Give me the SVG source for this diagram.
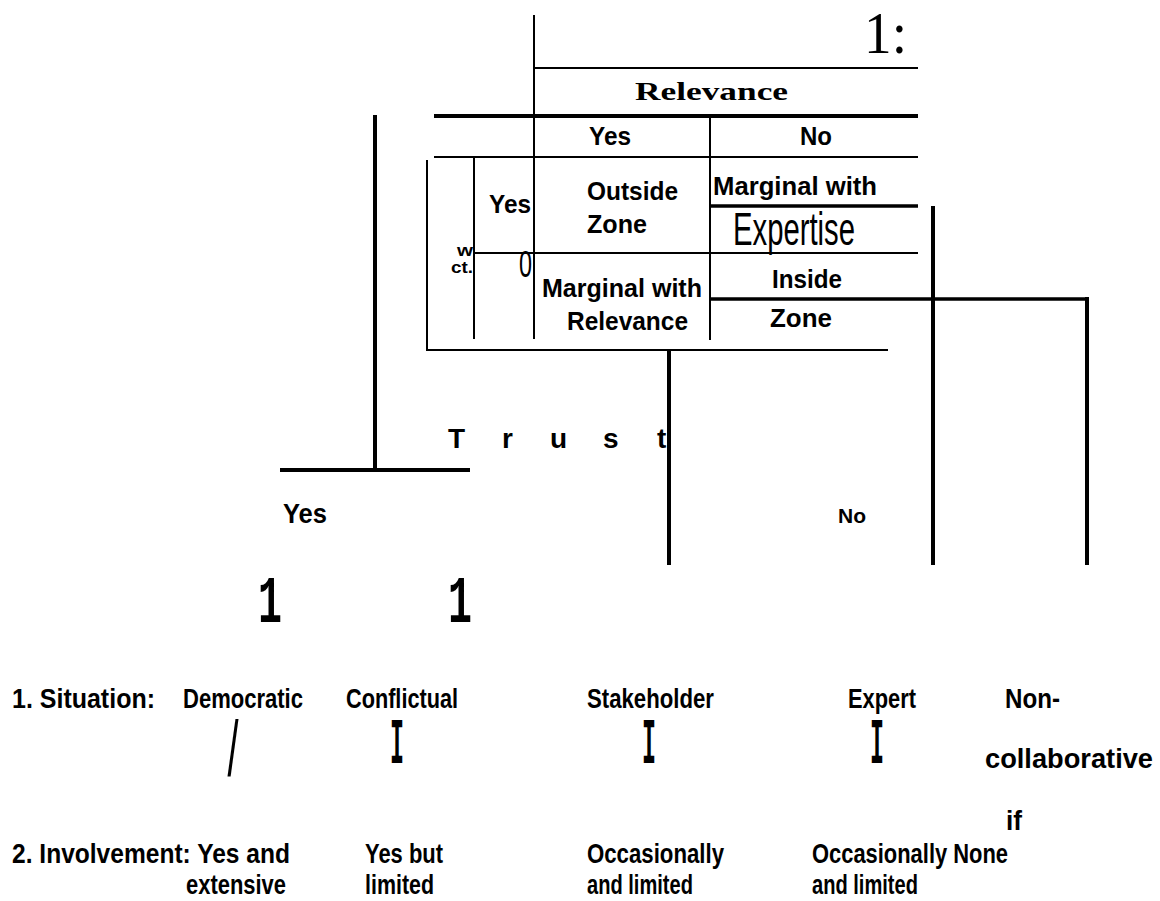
<svg xmlns="http://www.w3.org/2000/svg" width="1160" height="901" viewBox="0 0 1160 901">
<style>
.b{font-family:"Liberation Sans",Arial,sans-serif;font-weight:bold;fill:#000}
.r{font-family:"Liberation Sans",Arial,sans-serif;font-weight:normal;fill:#000}
.s{font-family:"Liberation Serif","Times New Roman",serif;fill:#000}
.m{font-family:"Liberation Mono","Courier New",monospace;font-weight:bold;fill:#000}
.f24{font-size:26px}.f26{font-size:28px}
.thin{stroke:#000;stroke-width:2;fill:none}
.thick{stroke:#000;stroke-width:4;fill:none}
.mid{stroke:#000;stroke-width:3.5;fill:none}
</style>
<rect width="1160" height="901" fill="#fff"/>
<g id="table">
<line class="thin" x1="534" y1="15" x2="534" y2="339"/>
<line class="thin" x1="534" y1="68" x2="918" y2="68"/>
<line class="thick" x1="434" y1="116" x2="918" y2="116"/>
<line class="thin" x1="710" y1="116" x2="710" y2="340"/>
<line class="thin" x1="434" y1="157" x2="918" y2="157"/>
<line class="thin" x1="427" y1="160" x2="427" y2="351"/>
<line class="thin" x1="474" y1="157" x2="474" y2="339"/>
<line class="thin" x1="474" y1="253" x2="918" y2="253"/>
<line class="mid" x1="710" y1="206" x2="918" y2="206"/>
<line class="thin" x1="427" y1="350" x2="888" y2="350"/>
<text class="s" x="864" y="53" font-size="60" textLength="43" lengthAdjust="spacingAndGlyphs">1:</text>
<text class="s" x="635" y="100" font-size="26" font-weight="bold" textLength="153" lengthAdjust="spacingAndGlyphs">Relevance</text>
<text class="b" x="589" y="145" font-size="25" textLength="42" lengthAdjust="spacingAndGlyphs">Yes</text>
<text class="b" x="800" y="145" font-size="25" textLength="32" lengthAdjust="spacingAndGlyphs">No</text>
<text class="b" x="489" y="213" font-size="25" textLength="42" lengthAdjust="spacingAndGlyphs">Yes</text>
<text class="b" x="457" y="256" font-size="17" textLength="16" lengthAdjust="spacingAndGlyphs">w</text>
<text class="b" x="451" y="273" font-size="17" textLength="22" lengthAdjust="spacingAndGlyphs">ct.</text>
<text class="r" x="519" y="277" font-size="37" textLength="13" lengthAdjust="spacingAndGlyphs">0</text>
<text class="b f24" x="587" y="200" textLength="91" lengthAdjust="spacingAndGlyphs">Outside</text>
<text class="b f24" x="587" y="233" textLength="60" lengthAdjust="spacingAndGlyphs">Zone</text>
<text class="b f24" x="713" y="195" textLength="164" lengthAdjust="spacingAndGlyphs">Marginal with</text>
<text class="r" x="733" y="245" font-size="47" textLength="122" lengthAdjust="spacingAndGlyphs">Expertise</text>
<text class="b f24" x="542" y="297" textLength="160" lengthAdjust="spacingAndGlyphs">Marginal with</text>
<text class="b f24" x="567" y="330" textLength="121" lengthAdjust="spacingAndGlyphs">Relevance</text>
<text class="b f24" x="772" y="288" textLength="70" lengthAdjust="spacingAndGlyphs">Inside</text>
<text class="b f24" x="770" y="327" textLength="62" lengthAdjust="spacingAndGlyphs">Zone</text>
</g>
<g id="connectors">
<line class="mid" x1="710" y1="299" x2="1089" y2="299"/>
<line class="thick" x1="933" y1="206" x2="933" y2="565"/>
<line class="thick" x1="1087" y1="297" x2="1087" y2="565"/>
<line class="thick" x1="669" y1="350" x2="669" y2="565"/>
<line class="thick" x1="375" y1="115" x2="375" y2="470"/>
<line class="thick" x1="280" y1="470" x2="470" y2="470"/>
</g>
<g id="trust">
<text class="b" font-size="28" x="448 502 550 603 657" y="448">Trust</text>
<text class="b" x="283" y="523" font-size="27" textLength="44" lengthAdjust="spacingAndGlyphs">Yes</text>
<text class="b" x="838" y="523" font-size="20" textLength="28" lengthAdjust="spacingAndGlyphs">No</text>
<text class="m" x="270" y="622" font-size="66" text-anchor="middle" textLength="24" lengthAdjust="spacingAndGlyphs">1</text>
<text class="m" x="460" y="622" font-size="66" text-anchor="middle" textLength="24" lengthAdjust="spacingAndGlyphs">1</text>
</g>
<g id="situation">
<text class="b f26" x="12" y="708" textLength="143" lengthAdjust="spacingAndGlyphs">1. Situation:</text>
<text class="b f26" x="183" y="708" textLength="120" lengthAdjust="spacingAndGlyphs">Democratic</text>
<text class="b f26" x="346" y="708" textLength="112" lengthAdjust="spacingAndGlyphs">Conflictual</text>
<text class="b f26" x="587" y="708" textLength="127" lengthAdjust="spacingAndGlyphs">Stakeholder</text>
<text class="b f26" x="848" y="708" textLength="68" lengthAdjust="spacingAndGlyphs">Expert</text>
<text class="b f26" x="1005" y="708" textLength="55" lengthAdjust="spacingAndGlyphs">Non-</text>
<text class="b f26" x="985" y="768" textLength="168" lengthAdjust="spacingAndGlyphs">collaborative</text>
<text class="b f26" x="1006" y="830" textLength="16" lengthAdjust="spacingAndGlyphs">if</text>
<text class="r" x="233" y="776" font-size="78" text-anchor="middle" textLength="11" lengthAdjust="spacingAndGlyphs">/</text>
<text class="m" x="397" y="763" font-size="64" text-anchor="middle" textLength="14" lengthAdjust="spacingAndGlyphs">I</text>
<text class="m" x="649" y="763" font-size="64" text-anchor="middle" textLength="14" lengthAdjust="spacingAndGlyphs">I</text>
<text class="m" x="877" y="763" font-size="64" text-anchor="middle" textLength="14" lengthAdjust="spacingAndGlyphs">I</text>
</g>
<g id="involvement">
<text class="b f26" x="12" y="863" textLength="278" lengthAdjust="spacingAndGlyphs">2. Involvement: Yes and</text>
<text class="b f26" x="186" y="894" textLength="100" lengthAdjust="spacingAndGlyphs">extensive</text>
<text class="b f26" x="365" y="863" textLength="78" lengthAdjust="spacingAndGlyphs">Yes but</text>
<text class="b f26" x="365" y="894" textLength="69" lengthAdjust="spacingAndGlyphs">limited</text>
<text class="b f26" x="587" y="863" textLength="137" lengthAdjust="spacingAndGlyphs">Occasionally</text>
<text class="b f26" x="587" y="894" textLength="106" lengthAdjust="spacingAndGlyphs">and limited</text>
<text class="b f26" x="812" y="863" textLength="196" lengthAdjust="spacingAndGlyphs">Occasionally None</text>
<text class="b f26" x="812" y="894" textLength="106" lengthAdjust="spacingAndGlyphs">and limited</text>
</g>
</svg>
